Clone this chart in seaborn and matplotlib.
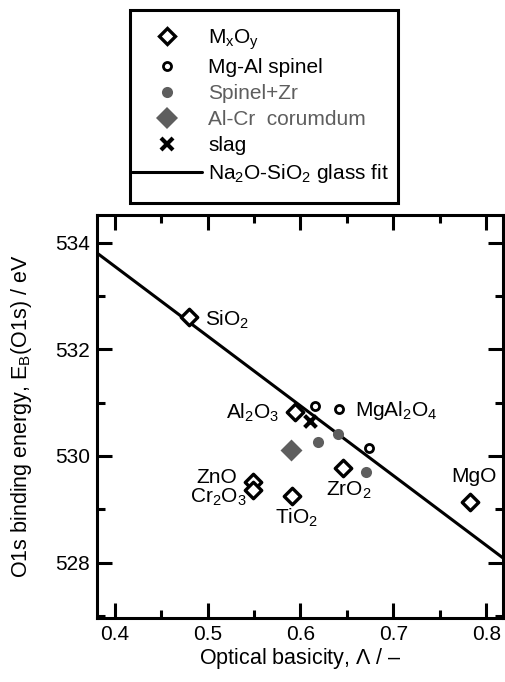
import matplotlib
matplotlib.use("Agg")
import matplotlib.pyplot as plt
import seaborn as sns
from matplotlib.lines import Line2D
from matplotlib.patches import Rectangle
from matplotlib.legend_handler import HandlerLine2D
from matplotlib.ticker import MultipleLocator

# data (optical basicity, O1s binding energy / eV)
oxide_names = ["SiO$_2$", "Al$_2$O$_3$", "ZnO", "Cr$_2$O$_3$", "TiO$_2$", "ZrO$_2$", "MgO"]
oxide_x = [0.480, 0.594, 0.549, 0.549, 0.591, 0.646, 0.783]
oxide_y = [532.60, 530.82, 529.52, 529.36, 529.25, 529.77, 529.13]

spinel_x = [0.616, 0.641, 0.674]
spinel_y = [530.94, 530.89, 530.14]

spinel_zr_x = [0.619, 0.640, 0.671]
spinel_zr_y = [530.27, 530.41, 529.70]

corundum_x = [0.590]
corundum_y = [530.11]

slag_x = [0.610]
slag_y = [530.66]

# Na2O-SiO2 glass fit line, end points
fit_x = [0.38, 0.82]
fit_y = [533.82, 528.06]

sns.set_style("ticks")
plt.rcParams["font.family"] = ["Liberation Sans", "DejaVu Sans"]
plt.rcParams["mathtext.fontset"] = "custom"
plt.rcParams["mathtext.rm"] = "Liberation Sans"
plt.rcParams["mathtext.it"] = "Liberation Sans:italic"
plt.rcParams["mathtext.default"] = "rm"
for k in ["axes.edgecolor", "xtick.color", "ytick.color", "text.color", "axes.labelcolor"]:
    plt.rcParams[k] = "black"

FS = 15
GRAY = "#5e5e5e"

fig = plt.figure(figsize=(5.05, 6.82), dpi=100)
ax = fig.add_axes([97 / 505, 1 - 618 / 682, 406 / 505, 403 / 682])

sns.lineplot(x=fit_x, y=fit_y, ax=ax, color="black", linewidth=2.2, zorder=2)

sns.scatterplot(x=oxide_x, y=oxide_y, ax=ax, marker="D", s=70, facecolor="white",
                edgecolor="black", linewidth=2.4, zorder=4)
sns.scatterplot(x=spinel_x, y=spinel_y, ax=ax, marker="o", s=34, facecolor="white",
                edgecolor="black", linewidth=2.0, zorder=4)
sns.scatterplot(x=spinel_zr_x, y=spinel_zr_y, ax=ax, marker="o", s=64, color=GRAY,
                linewidth=0, zorder=3)
sns.scatterplot(x=corundum_x, y=corundum_y, ax=ax, marker="D", s=125, color=GRAY,
                linewidth=0, zorder=3)
sns.scatterplot(x=slag_x, y=slag_y, ax=ax, marker="x", s=72, color="black",
                linewidth=3, zorder=5)

# labels of the oxides
label_pos = {
    "SiO$_2$": (0.497, 532.55, "left"),
    "Al$_2$O$_3$": (0.577, 530.80, "right"),
    "ZnO": (0.532, 529.60, "right"),
    "Cr$_2$O$_3$": (0.542, 529.22, "right"),
    "TiO$_2$": (0.596, 528.83, "center"),
    "ZrO$_2$": (0.627, 529.36, "left"),
    "MgO": (0.787, 529.62, "center"),
}
for name in oxide_names:
    lx, ly, ha = label_pos[name]
    ax.text(lx, ly, name, fontsize=FS, ha=ha, va="center")
ax.text(0.659, 530.86, "MgAl$_2$O$_4$", fontsize=FS, ha="left", va="center")

ax.set_xlim(0.381, 0.818)
ax.set_ylim(526.96, 534.52)
ax.xaxis.set_major_locator(MultipleLocator(0.1))
ax.xaxis.set_minor_locator(MultipleLocator(0.05))
ax.yaxis.set_major_locator(MultipleLocator(2))
ax.yaxis.set_minor_locator(MultipleLocator(1))
ax.tick_params(which="both", direction="in", top=True, right=True, width=2.2,
               labelsize=FS, pad=5, color="black")
ax.tick_params(which="major", length=11)
ax.tick_params(which="minor", length=5.5)
for sp in ax.spines.values():
    sp.set_linewidth(2.2)
    sp.set_color("black")
    sp.set_visible(True)

ax.set_xlabel("Optical basicity, $\\Lambda$ / \u2013", fontsize=15.5)
ax.set_ylabel("O1s binding energy, E$_{\\rm B}$(O1s) / eV", fontsize=15.5)
ax.xaxis.set_label_coords(0.5, -0.07)
ax.yaxis.set_label_coords(-0.155, 0.5)


class LeftMarker(HandlerLine2D):
    def get_xdata(self, legend, xdescent, ydescent, width, height, fontsize):
        xdata, _ = super().get_xdata(legend, xdescent, ydescent, width, height, fontsize)
        return xdata, [-xdescent + width * 0.37]


handles = [
    Line2D([], [], ls="none", marker="D", ms=8.2, mfc="white", mec="black", mew=2.4),
    Line2D([], [], ls="none", marker="o", ms=5.8, mfc="white", mec="black", mew=2.0),
    Line2D([], [], ls="none", marker="o", ms=8.0, mfc=GRAY, mec=GRAY, mew=0),
    Line2D([], [], ls="none", marker="D", ms=11, mfc=GRAY, mec=GRAY, mew=0),
    Line2D([], [], ls="none", marker="x", ms=8.4, mec="black", mew=3),
    Line2D([], [], color="black", lw=2.2),
]
labels = ["M$_x$O$_y$", "Mg-Al spinel", "Spinel+Zr", "Al-Cr  corumdum", "slag",
          "Na$_2$O-SiO$_2$ glass fit"]
leg = fig.legend(handles, labels, loc="upper left",
                 bbox_to_anchor=(132 / 505, 1 - 27 / 682), frameon=False,
                 fontsize=FS, handlelength=3.36, handletextpad=0.29,
                 labelspacing=0.33, borderpad=0, borderaxespad=0,
                 handler_map={Line2D: LeftMarker()})
for t, c in zip(leg.get_texts(), ["black", "black", GRAY, GRAY, "black", "black"]):
    t.set_color(c)

fig.patches.append(Rectangle((130 / 505, 1 - 203 / 682), 268 / 505, 193 / 682,
                             transform=fig.transFigure, fill=False,
                             edgecolor="black", linewidth=2.2))

fig.savefig("out.png", dpi=100)
